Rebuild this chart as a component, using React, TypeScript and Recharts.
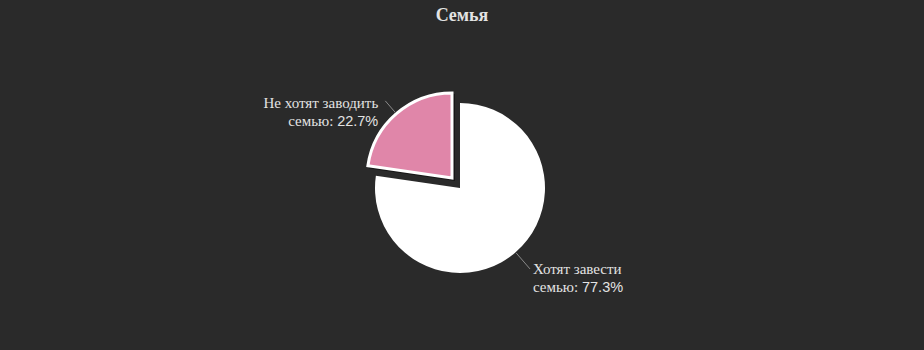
import { PieChart, Pie, Cell } from "recharts";

const categories = ["Хотят завести семью", "Не хотят заводить семью"];
const shares = [77.3, 22.7];
const labelFirstLines = ["Хотят завести", "Не хотят заводить"];
const labelSecondLines = ["семью", "семью"];
const COLORS = ["#ffffff", "#e086a9"];

const data = categories.map((name, i) => ({ name, value: shares[i] }));

const BG = "#2a2a2a";
const TEXT = "#e3e3e3";
const CX = 460;
const CY = 188;
const R = 85;
// sliced offset for the pink slice
const SX = -8;
const SY = -10;
// connector length per slice
const DIST = [22, 17];

const RAD = Math.PI / 180;

function makeLabel(onlyIndex: number) {
  return (props: any) => {
    const { cx, cy, midAngle, outerRadius, index } = props;
    if (index !== onlyIndex) return null;
    const cos = Math.cos(-midAngle * RAD);
    const sin = Math.sin(-midAngle * RAD);
    const x1 = cx + (outerRadius + 1) * cos;
    const y1 = cy + (outerRadius + 1) * sin;
    const x2 = cx + (outerRadius + DIST[index]) * cos;
    const y2 = cy + (outerRadius + DIST[index]) * sin;
    const right = cos >= 0;
    const tx = right ? x2 + 3 : x2 - 7;
    const ty = right ? y2 + 5 : y2 + 7;
    return (
      <g>
        <path d={`M${x1},${y1}L${x2},${y2}`} stroke="#8a8a8a" strokeWidth={1} fill="none" />
        <text
          x={tx}
          y={ty}
          textAnchor={right ? "start" : "end"}
          fill={TEXT}
          fontFamily="'Liberation Serif', serif"
          fontSize={15}
        >
          <tspan x={tx} y={ty}>{labelFirstLines[index]}</tspan>
          <tspan x={tx} y={ty + 18}>
            {labelSecondLines[index]}:{" "}
            <tspan fontFamily="'Liberation Sans', sans-serif" fontSize={14.5}>
              {shares[index].toFixed(1)}%
            </tspan>
          </tspan>
        </text>
      </g>
    );
  };
}

export default function App() {
  return (
    <div style={{ position: "absolute", left: 0, top: 0, width: 924, height: 350, background: BG }}>
      <PieChart width={924} height={350} margin={{ top: 0, right: 0, bottom: 0, left: 0 }}>
        <text
          x={462}
          y={21}
          textAnchor="middle"
          fill={TEXT}
          fontFamily="'Liberation Serif', serif"
          fontWeight="bold"
          fontSize={18}
        >
          Семья
        </text>
        <Pie
          data={data}
          dataKey="value"
          nameKey="name"
          cx={CX}
          cy={CY}
          outerRadius={R}
          startAngle={90}
          endAngle={-270}
          isAnimationActive={false}
          label={makeLabel(0)}
          labelLine={false}
        >
          {data.map((_, i) => (
            <Cell key={i} fill={i === 0 ? COLORS[0] : "none"} stroke="none" />
          ))}
        </Pie>
        {/* shadow of the sliced part */}
        <Pie
          data={data}
          dataKey="value"
          cx={CX + SX + 3}
          cy={CY + SY + 3}
          outerRadius={R + 2}
          startAngle={90}
          endAngle={-270}
          isAnimationActive={false}
          label={false}
          labelLine={false}
        >
          {data.map((_, i) => (
            <Cell key={i} fill={i === 1 ? "rgba(0,0,0,0.45)" : "none"} stroke="none" />
          ))}
        </Pie>
        <Pie
          data={data}
          dataKey="value"
          nameKey="name"
          cx={CX + SX}
          cy={CY + SY}
          outerRadius={R}
          startAngle={90}
          endAngle={-270}
          isAnimationActive={false}
          label={makeLabel(1)}
          labelLine={false}
        >
          {data.map((_, i) => (
            <Cell
              key={i}
              fill={i === 1 ? COLORS[1] : "none"}
              stroke={i === 1 ? "#ffffff" : "none"}
              strokeWidth={3}
            />
          ))}
        </Pie>
      </PieChart>
    </div>
  );
}
